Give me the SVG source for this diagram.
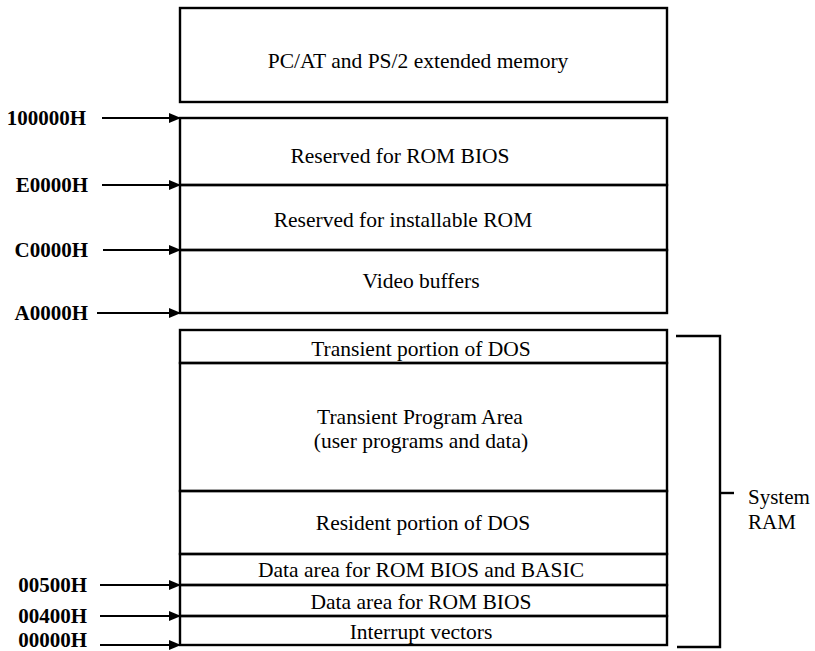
<svg xmlns="http://www.w3.org/2000/svg" width="815" height="651" viewBox="0 0 815 651">
<style>
.box{fill:none;stroke:#000;stroke-width:2.4}
.ln{stroke:#000;stroke-width:2.4;fill:none}
.t{font-family:"Liberation Serif","Times New Roman",serif;font-size:21.5px;fill:#000;text-anchor:middle}
.lbl{font-family:"Liberation Serif","Times New Roman",serif;font-size:21px;font-weight:bold;fill:#000;text-anchor:end}
.side{font-family:"Liberation Serif","Times New Roman",serif;font-size:21px;fill:#000}
.arr{stroke:#000;stroke-width:2.2;fill:none;marker-end:url(#ah)}
</style>
<defs>
<marker id="ah" markerWidth="12" markerHeight="10" refX="11" refY="5" orient="auto" markerUnits="userSpaceOnUse"><path d="M0,0 L12,5 L0,10 Z" fill="#000"/></marker>
</defs>
<rect width="815" height="651" fill="#fff"/>

<g id="extended">
<rect class="box" x="180" y="8" width="487" height="94"/>
<text class="t" x="418" y="68">PC/AT and PS/2 extended memory</text>
</g>

<g id="rom-bios">
<rect class="box" x="180" y="118" width="487" height="67"/>
<text class="t" x="400" y="163">Reserved for ROM BIOS</text>
</g>
<g id="installable-rom">
<rect class="box" x="180" y="185" width="487" height="65"/>
<text class="t" x="403" y="227">Reserved for installable ROM</text>
</g>
<g id="video-buffers">
<rect class="box" x="180" y="250" width="487" height="63"/>
<text class="t" x="421" y="288">Video buffers</text>
</g>

<g id="transient-dos">
<rect class="box" x="180" y="330" width="487" height="33"/>
<text class="t" x="421" y="356">Transient portion of DOS</text>
</g>
<g id="tpa">
<rect class="box" x="180" y="363" width="487" height="128"/>
<text class="t" x="420" y="424">Transient Program Area</text>
<text class="t" x="421" y="448">(user programs and data)</text>
</g>
<g id="resident-dos">
<rect class="box" x="180" y="491" width="487" height="63"/>
<text class="t" x="423" y="530">Resident portion of DOS</text>
</g>
<g id="data-basic">
<rect class="box" x="180" y="554" width="487" height="31"/>
<text class="t" x="421" y="577">Data area for ROM BIOS and BASIC</text>
</g>
<g id="data-bios">
<rect class="box" x="180" y="585" width="487" height="31"/>
<text class="t" x="421" y="609">Data area for ROM BIOS</text>
</g>
<g id="vectors">
<rect class="box" x="180" y="616" width="487" height="29"/>
<text class="t" x="421" y="639">Interrupt vectors</text>
</g>

<g id="labels">
<text class="lbl" x="86" y="125">100000H</text>
<text class="lbl" x="88" y="192">E0000H</text>
<text class="lbl" x="88" y="257">C0000H</text>
<text class="lbl" x="88" y="320">A0000H</text>
<text class="lbl" x="87" y="592">00500H</text>
<text class="lbl" x="87" y="623">00400H</text>
<text class="lbl" x="87" y="647">00000H</text>
</g>

<g id="connectors">
<line class="arr" x1="102" y1="118" x2="180" y2="118"/>
<line class="arr" x1="102" y1="185" x2="180" y2="185"/>
<line class="arr" x1="103" y1="250" x2="180" y2="250"/>
<line class="arr" x1="97" y1="313" x2="180" y2="313"/>
<line class="arr" x1="100" y1="585" x2="180" y2="585"/>
<line class="arr" x1="100" y1="616" x2="180" y2="616"/>
<line class="arr" x1="100" y1="645" x2="180" y2="645"/>
</g>

<g id="system-ram">
<path class="ln" d="M676,336 H720 V647 H677"/>
<line class="ln" x1="720" y1="493" x2="734" y2="493"/>
<text class="side" x="748" y="504">System</text>
<text class="side" x="748" y="529">RAM</text>
</g>
</svg>
